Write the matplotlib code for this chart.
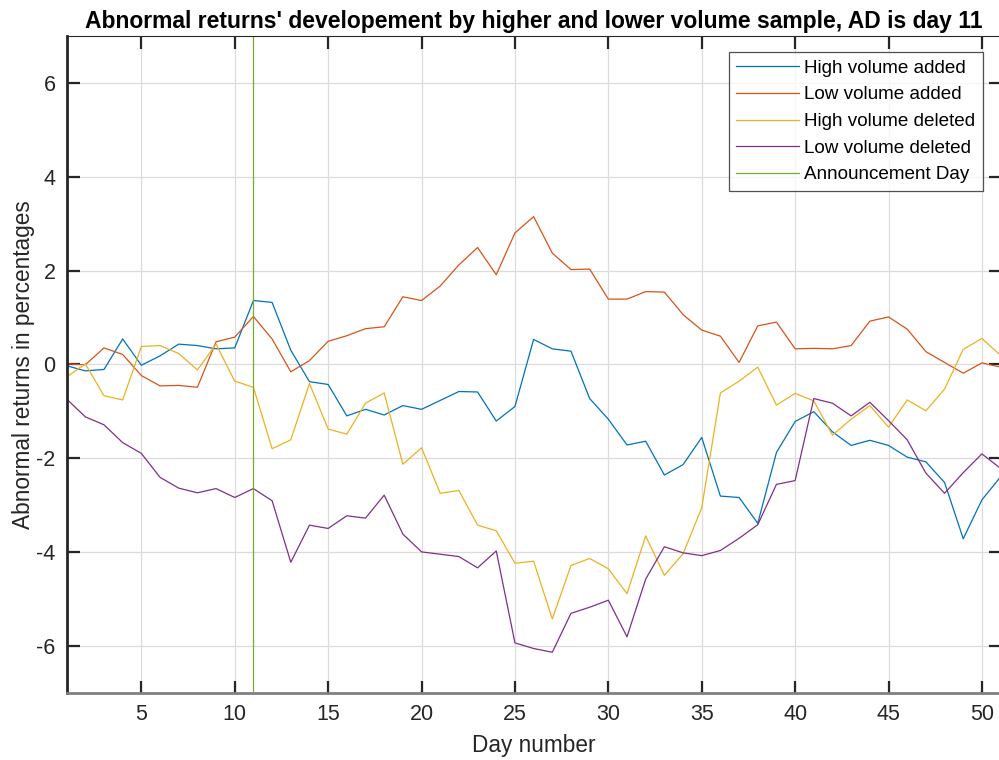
import matplotlib
matplotlib.use("Agg")
import matplotlib.pyplot as plt
import numpy as np

plt.rcParams['font.family'] = ['Liberation Sans', 'DejaVu Sans']
plt.rcParams['axes.unicode_minus'] = False

days = list(range(1, 52))

high_added = [-0.03, -0.14, -0.11, 0.54, -0.02, 0.18, 0.43, 0.40, 0.33, 0.35,
              1.36, 1.32, 0.30, -0.37, -0.43, -1.10, -0.96, -1.08, -0.88, -0.96,
              -0.77, -0.58, -0.59, -1.21, -0.90, 0.53, 0.33, 0.28, -0.73, -1.17,
              -1.72, -1.64, -2.36, -2.14, -1.56, -2.81, -2.84, -3.39, -1.88, -1.22,
              -1.01, -1.44, -1.73, -1.62, -1.73, -1.98, -2.08, -2.52, -3.72, -2.89,
              -2.40]
low_added = [0.01, -0.01, 0.35, 0.21, -0.24, -0.46, -0.45, -0.49, 0.48, 0.58,
             1.02, 0.54, -0.16, 0.08, 0.49, 0.61, 0.76, 0.80, 1.44, 1.36,
             1.67, 2.12, 2.49, 1.91, 2.80, 3.15, 2.37, 2.02, 2.03, 1.39,
             1.39, 1.55, 1.54, 1.06, 0.73, 0.60, 0.04, 0.82, 0.90, 0.33,
             0.34, 0.33, 0.40, 0.92, 1.01, 0.75, 0.27, 0.04, -0.19, 0.03,
             -0.06]
high_deleted = [-0.27, 0.01, -0.67, -0.76, 0.38, 0.40, 0.23, -0.12, 0.43, -0.36,
                -0.49, -1.80, -1.61, -0.41, -1.38, -1.49, -0.83, -0.61, -2.13, -1.78,
                -2.75, -2.69, -3.43, -3.55, -4.24, -4.20, -5.43, -4.29, -4.14, -4.36,
                -4.89, -3.66, -4.50, -4.04, -3.06, -0.61, -0.36, -0.06, -0.87, -0.62,
                -0.78, -1.51, -1.17, -0.88, -1.34, -0.76, -0.99, -0.53, 0.32, 0.55,
                0.19]
low_deleted = [-0.74, -1.12, -1.29, -1.67, -1.90, -2.41, -2.64, -2.74, -2.65, -2.84,
               -2.65, -2.91, -4.22, -3.43, -3.50, -3.23, -3.28, -2.79, -3.62, -4.00,
               -4.05, -4.10, -4.34, -3.98, -5.94, -6.06, -6.14, -5.31, -5.18, -5.03,
               -5.81, -4.58, -3.89, -4.02, -4.08, -3.97, -3.71, -3.42, -2.56, -2.48,
               -0.73, -0.83, -1.10, -0.81, -1.20, -1.61, -2.32, -2.75, -2.31, -1.91,
               -2.22]
announcement_day = 11

labels = ["High volume added", "Low volume added", "High volume deleted",
          "Low volume deleted", "Announcement Day"]
colors = ["#0072BD", "#D95319", "#EDB120", "#7E2F8E", "#77AC30"]

fig = plt.figure(figsize=(9.99, 7.6), dpi=100)
ax = fig.add_axes([0.0667, 0.0887, 0.9349, 0.8639])

for series, lab, c in zip([high_added, low_added, high_deleted, low_deleted], labels[:4], colors[:4]):
    ax.plot(days, series, color=c, lw=0.9, label=lab)
ax.axvline(announcement_day, color=colors[4], lw=0.9, label=labels[4])

ax.set_xlim(1, 51)
ax.set_ylim(-7, 7)
ax.set_xticks(range(5, 51, 5))
ax.set_yticks(range(-6, 7, 2))
ax.grid(True, color='#dcdcdc', lw=0.9)
ax.set_axisbelow(True)
ax.tick_params(direction='in', length=9, width=1.6, colors='#262626', labelsize=15.5,
               top=True, right=True, pad=8)
for name, sp in ax.spines.items():
    sp.set_color('#262626')
    sp.set_linewidth(0.8)
ax.spines['left'].set_linewidth(2.0)
ax.spines['bottom'].set_color('#808080')
ax.spines['bottom'].set_linewidth(2.0)

ax.set_xlabel("Day number", fontsize=16.3, color='#262626', labelpad=7)
ax.set_ylabel("Abnormal returns in percentages", fontsize=16.3, color='#262626', labelpad=1)
ax.set_title("Abnormal returns' developement by higher and lower volume sample, AD is day 11",
             fontsize=16.5, fontweight='bold', pad=6)

leg = ax.legend(loc='upper right', bbox_to_anchor=(0.981, 0.9756), fontsize=13.6,
                frameon=True, fancybox=False, handlelength=3.33, handletextpad=0.27,
                labelspacing=0.5, borderpad=0.4, borderaxespad=0)
leg.get_frame().set_edgecolor('#262626')
leg.get_frame().set_linewidth(0.9)
for t in leg.get_texts():
    t.set_color('#000000')

fig.savefig("out.png", dpi=100)
